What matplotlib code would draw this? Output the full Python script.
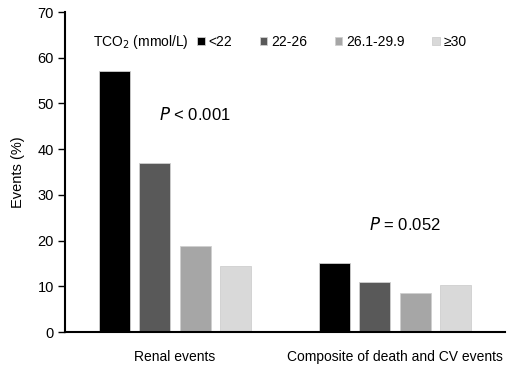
import numpy as np
import matplotlib
matplotlib.use('Agg')
import matplotlib.pyplot as plt

plt.rcParams['font.family'] = ['Liberation Sans', 'DejaVu Sans']

groups = ['Renal events', 'Composite of death and CV events']
tco2_levels = ['<22', '22-26', '26.1-29.9', '\u226530']
colors = ['#000000', '#595959', '#a6a6a6', '#d9d9d9']
renal = [57.1, 37.0, 18.8, 14.4]
composite = [15.2, 10.9, 8.5, 10.3]
values = np.array([renal, composite])
p_labels = ['$\\it{P}$ < 0.001', '$\\it{P}$ = 0.052']

fig = plt.figure(figsize=(5.1, 3.67), dpi=100)
ax = fig.add_axes([65/510, 1-332/367, 440/510, 320/367])

x = np.arange(len(groups))
pitch = 0.182
width = 0.141
bars = []
for k in range(len(tco2_levels)):
    b = ax.bar(x + (k - 1.5)*pitch, values[:, k], width, color=colors[k],
               edgecolor='#cfcfcf', linewidth=0.6, label=tco2_levels[k])
    bars.append(b)

ax.set_xlim(-0.5, 1.5)
ax.set_ylim(0, 70)
ax.set_yticks(range(0, 71, 10))
ax.set_xticks(x)
ax.set_xticklabels(groups)
ax.tick_params(axis='x', length=0, pad=13, labelsize=10)
ax.tick_params(axis='y', length=5, width=1, labelsize=10.5, pad=3)
ax.spines['top'].set_visible(False)
ax.spines['right'].set_visible(False)
ax.spines['left'].set_linewidth(1.5)
ax.spines['bottom'].set_linewidth(1.5)
ax.set_ylabel('Events (%)', fontsize=10.5, labelpad=9)

# p-values
ax.text(0.09, 47.5, p_labels[0], fontsize=12, ha='center', va='center')
ax.text(1.045, 23.5, p_labels[1], fontsize=12, ha='center', va='center')

fig.text(93/510, 1-42/367, 'TCO$_2$ (mmol/L)', fontsize=10, ha='left', va='center')
leg = fig.legend(handles=bars, labels=tco2_levels, ncol=4, frameon=False,
                 loc='center left', bbox_to_anchor=(197/510, 1-42/367),
                 fontsize=10, handlelength=0.55, handleheight=0.55,
                 handletextpad=0.3, columnspacing=1.95, borderpad=0, borderaxespad=0)

fig.savefig('out.png', dpi=100)
